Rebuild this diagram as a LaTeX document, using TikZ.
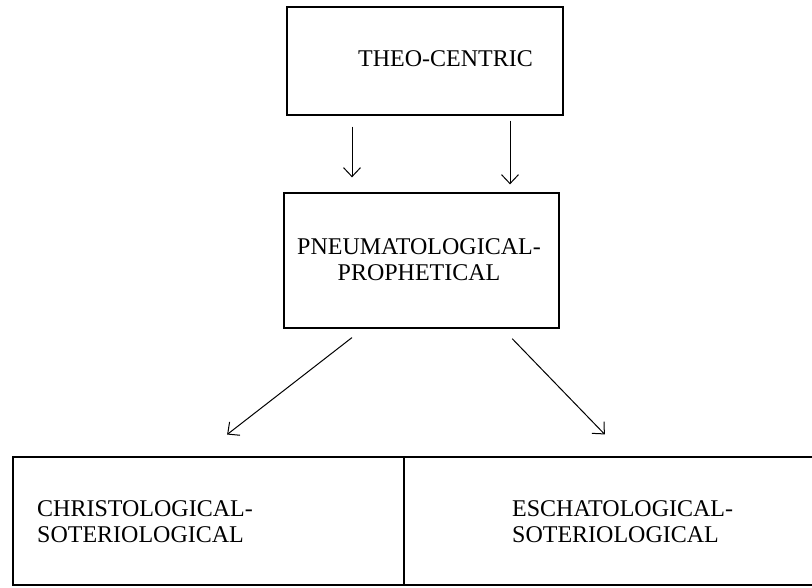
\documentclass[tikz,border=0pt]{standalone}
\usepackage{fontspec}
\setmainfont{Liberation Serif}
\usetikzlibrary{arrows.meta}

\begin{document}
\begin{tikzpicture}[x=1pt,y=-1pt,->,>={Straight Barb[length=9pt,width=17pt]},
        box/.style={draw,line width=1.3pt,inner sep=0pt},
        lbl/.style={inner sep=0pt,font=\fontsize{24}{26}\selectfont},
        link/.style={line width=1pt}]

    \clip (0,0) rectangle (812,588);

    \node[box,minimum width=276pt,minimum height=108pt] (theo) at (425,61) {};
    \node[box,minimum width=275pt,minimum height=135pt] (pneu) at (421.5,260.5) {};
    \node[box,minimum width=391pt,minimum height=128pt] (chris) at (208.5,521) {};
    \node[box,minimum width=414pt,minimum height=128pt] (escha) at (611,521) {};

    \node[lbl] (theotext) at (445.5,59) {THEO-CENTRIC};
    \node[lbl,align=center] (pneutext) at (419,260) {PNEUMATOLOGICAL-\\PROPHETICAL};
    \node[lbl,align=left,anchor=west] (christext) at (37,522) {CHRISTOLOGICAL-\\SOTERIOLOGICAL};
    \node[lbl,align=left,anchor=west] (eschatext) at (512,522) {ESCHATOLOGICAL-\\SOTERIOLOGICAL};

    \draw[link,shorten <=11pt,shorten >=15pt] ([xshift=-73pt]theo.south) -- ([xshift=-69.5pt]pneu.north);
    \draw[link,shorten <=5pt,shorten >=8pt] ([xshift=85pt]theo.south) -- ([xshift=88.5pt]pneu.north);
    \draw[link,shorten <=14.6pt,shorten >=35.6pt] ([xshift=-58pt]pneu.south) -- ([xshift=-9.5pt]chris.north);
    \draw[link,shorten <=13.9pt,shorten >=30.5pt] ([xshift=81pt]pneu.south) -- ([xshift=15pt]escha.north);

    \end{tikzpicture}
\end{document}
